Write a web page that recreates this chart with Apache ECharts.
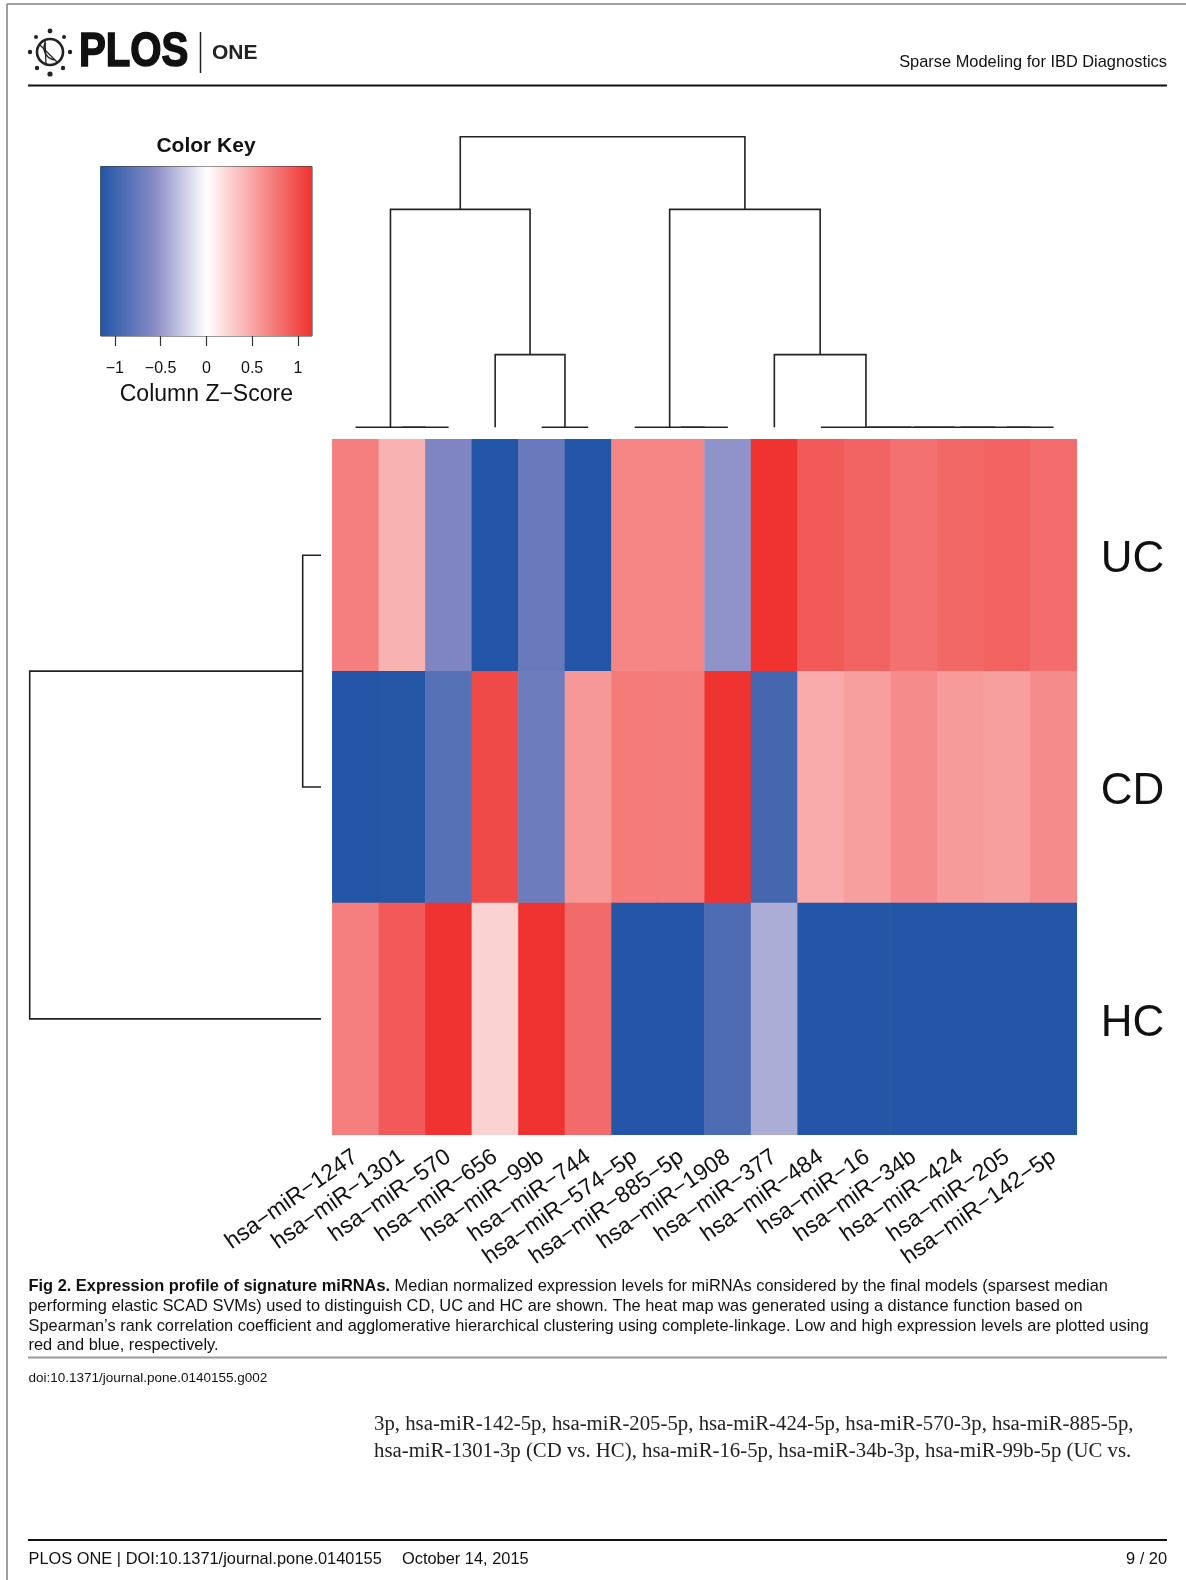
<!DOCTYPE html>
<html>
<head>
<meta charset="utf-8">
<script src="https://cdn.jsdelivr.net/npm/echarts@6/dist/echarts.min.js"></script>
<style>
html,body{margin:0;padding:0;background:#fff;}
#chart{width:1186px;height:1580px;}
</style>
</head>
<body>
<div id="chart"></div>
<script>
// ---------------- data ----------------
const colLabels = ['hsa-miR-1247','hsa-miR-1301','hsa-miR-570','hsa-miR-656','hsa-miR-99b','hsa-miR-744',
  'hsa-miR-574-5p','hsa-miR-885-5p','hsa-miR-1908','hsa-miR-377','hsa-miR-484','hsa-miR-16',
  'hsa-miR-34b','hsa-miR-424','hsa-miR-205','hsa-miR-142-5p'];
const rowLabels = ['UC', 'CD', 'HC'];
const zUC = [0.72, 0.43, -0.62, -1.15, -0.75, -1.15, 0.68, 0.68, -0.53, 1.15, 0.93, 0.87, 0.79, 0.85, 0.88, 0.82];
const zCD = [-1.15, -1.14, -0.85, 1.02, -0.73, 0.58, 0.74, 0.73, 1.15, -0.96, 0.47, 0.54, 0.65, 0.56, 0.54, 0.65];
const zHC = [0.72, 0.93, 1.15, 0.25, 1.15, 0.83, -1.15, -1.15, -0.90, -0.40, -1.15, -1.15, -1.15, -1.15, -1.15, -1.15];
// column dendrogram: [height, left, right], leaves = column index
const colTree = [2, [1.5, [0, 0, [0, 1, 2]], [0.5, 3, [0, 4, 5]]],
                    [1.5, [0, 6, [0, 7, 8]], [0.5, 9, [0, 10, [0, 11, [0, 12, [0, 13, [0, 14, 15]]]]]]]];
// row dendrogram
const rowTree = [1.75, [0.11, 0, 1], 2];
const keyRange = [-1.1547, 1.1547];
const keyTicks = [-1, -0.5, 0, 0.5, 1];

// ---------------- style ----------------
const palette = ['#2256A6', '#8689C4', '#FFFFFF', '#F69897', '#EE3230'];
const FONT = '"Liberation Sans", Arial, Helvetica, sans-serif';
const SERIF = '"Liberation Serif", "Times New Roman", serif';
const minus = s => String(s).replace(/-/g, '\u2212');

function dendroSegments(tree) {
  const segs = [];
  function walk(node) {
    if (typeof node === 'number') return [node + 0.5, 0];
    const h = node[0];
    const a = walk(node[1]), b = walk(node[2]);
    segs.push([a[0], a[1], a[0], h, b[0], h, b[0], b[1]]);
    return [(a[0] + b[0]) / 2, h];
  }
  walk(tree);
  return segs;
}
const colSegs = dendroSegments(colTree);
const rowSegs = dendroSegments(rowTree).map(s => [s[1], s[0], s[3], s[2], s[5], s[4], s[7], s[6]]);

const heatData = [];
[zUC, zCD, zHC].forEach((row, j) => row.forEach((v, i) => heatData.push([i, j, v])));

const segRender = (params, api) => {
  const pts = [];
  for (let k = 0; k < 4; k++) pts.push(api.coord([api.value(2 * k), api.value(2 * k + 1)]));
  return { type: 'polyline', shape: { points: pts }, style: { stroke: '#222', lineWidth: 1.6, fill: null } };
};
const segDims = ['a0', 'b0', 'a1', 'b1', 'a2', 'b2', 'a3', 'b3'];

const chart = echarts.init(document.getElementById('chart'), null, { renderer: 'canvas' });

const HM = { left: 332.3, top: 439.3, width: 744.5, height: 695.5 };
const CAP = '16.4px ' + FONT;

const graphics = [
  // page border
  { type: 'line', shape: { x1: 7, y1: 4, x2: 1186, y2: 4 }, style: { stroke: '#808080', lineWidth: 1.5 } },
  { type: 'line', shape: { x1: 7, y1: 4, x2: 7, y2: 1580 }, style: { stroke: '#808080', lineWidth: 1.5 } },
  // logo globe
  { type: 'circle', shape: { cx: 50, cy: 52, r: 13 }, style: { stroke: '#222', lineWidth: 2.6, fill: null } },
  { type: 'arc', shape: { cx: 56, cy: 48, r: 12, startAngle: 1.7, endAngle: 3.6 }, style: { stroke: '#222', lineWidth: 1.5, fill: null } },
  { type: 'line', shape: { x1: 40, y1: 45, x2: 58, y2: 63 }, style: { stroke: '#222', lineWidth: 1.3 } },
  { type: 'line', shape: { x1: 45, y1: 40, x2: 46, y2: 64 }, style: { stroke: '#222', lineWidth: 1.3 } },
  { type: 'circle', shape: { cx: 50, cy: 31, r: 2.4 }, style: { fill: '#222' } },
  { type: 'circle', shape: { cx: 64, cy: 37, r: 2.0 }, style: { fill: '#222' } },
  { type: 'circle', shape: { cx: 36, cy: 37, r: 2.0 }, style: { fill: '#222' } },
  { type: 'circle', shape: { cx: 30, cy: 52, r: 2.2 }, style: { fill: '#222' } },
  { type: 'circle', shape: { cx: 70, cy: 52, r: 2.2 }, style: { fill: '#222' } },
  { type: 'circle', shape: { cx: 37, cy: 68, r: 2.2 }, style: { fill: '#222' } },
  { type: 'circle', shape: { cx: 63, cy: 68, r: 2.2 }, style: { fill: '#222' } },
  { type: 'circle', shape: { cx: 50, cy: 74, r: 2.6 }, style: { fill: '#222' } },
  { type: 'text', x: 79, y: 52, scaleX: 0.82, style: { text: 'PLOS', font: 'bold 49px ' + FONT, fill: '#111', stroke: '#111', lineWidth: 1.6, align: 'left', verticalAlign: 'middle' } },
  { type: 'line', shape: { x1: 200.5, y1: 32, x2: 200.5, y2: 73 }, style: { stroke: '#222', lineWidth: 1.5 } },
  { type: 'text', x: 212, y: 53, style: { text: 'ONE', font: 'bold 21px ' + FONT, fill: '#222', align: 'left', verticalAlign: 'middle' } },
  { type: 'text', x: 1167, y: 62, style: { text: 'Sparse Modeling for IBD Diagnostics', font: CAP, fill: '#111', align: 'right', verticalAlign: 'middle' } },
  { type: 'line', shape: { x1: 28, y1: 85.6, x2: 1167, y2: 85.6 }, style: { stroke: '#111', lineWidth: 2 } },
  // color key title
  { type: 'text', x: 206, y: 146.5, style: { text: 'Color Key', font: 'bold 21px ' + FONT, fill: '#111', align: 'center', verticalAlign: 'middle' } },
  // caption
  { type: 'text', x: 28.5, y: 1286, style: {
      text: '{b|Fig 2. Expression profile of signature miRNAs.} Median normalized expression levels for miRNAs considered by the final models (sparsest median',
      font: CAP, fill: '#111', align: 'left', verticalAlign: 'middle',
      rich: { b: { fontWeight: 'bold', fontSize: 16.4, fontFamily: FONT } } } },
  { type: 'text', x: 28.5, y: 1306, style: { text: 'performing elastic SCAD SVMs) used to distinguish CD, UC and HC are shown. The heat map was generated using a distance function based on', font: CAP, fill: '#111', align: 'left', verticalAlign: 'middle' } },
  { type: 'text', x: 28.5, y: 1326, style: { text: 'Spearman\u2019s rank correlation coefficient and agglomerative hierarchical clustering using complete-linkage. Low and high expression levels are plotted using', font: CAP, fill: '#111', align: 'left', verticalAlign: 'middle' } },
  { type: 'text', x: 28.5, y: 1345.5, style: { text: 'red and blue, respectively.', font: CAP, fill: '#111', align: 'left', verticalAlign: 'middle' } },
  { type: 'line', shape: { x1: 28, y1: 1357.5, x2: 1167, y2: 1357.5 }, style: { stroke: '#999', lineWidth: 2 } },
  { type: 'text', x: 28.5, y: 1378, style: { text: 'doi:10.1371/journal.pone.0140155.g002', font: '13.5px ' + FONT, fill: '#111', align: 'left', verticalAlign: 'middle' } },
  // body text
  { type: 'text', x: 374, y: 1424.5, style: { text: '3p, hsa-miR-142-5p, hsa-miR-205-5p, hsa-miR-424-5p, hsa-miR-570-3p, hsa-miR-885-5p,', font: '20.8px ' + SERIF, fill: '#222', align: 'left', verticalAlign: 'middle' } },
  { type: 'text', x: 374, y: 1451.5, style: { text: 'hsa-miR-1301-3p (CD vs. HC), hsa-miR-16-5p, hsa-miR-34b-3p, hsa-miR-99b-5p (UC vs.', font: '20.8px ' + SERIF, fill: '#222', align: 'left', verticalAlign: 'middle' } },
  // footer
  { type: 'line', shape: { x1: 28, y1: 1540, x2: 1167, y2: 1540 }, style: { stroke: '#111', lineWidth: 2 } },
  { type: 'text', x: 28.5, y: 1559.5, style: { text: 'PLOS ONE | DOI:10.1371/journal.pone.0140155', font: CAP, fill: '#111', align: 'left', verticalAlign: 'middle' } },
  { type: 'text', x: 402, y: 1559.5, style: { text: 'October 14, 2015', font: CAP, fill: '#111', align: 'left', verticalAlign: 'middle' } },
  { type: 'text', x: 1167, y: 1559.5, style: { text: '9 / 20', font: CAP, fill: '#111', align: 'right', verticalAlign: 'middle' } }
];

const option = {
  animation: false,
  backgroundColor: '#fff',
  textStyle: { fontFamily: FONT },
  grid: [
    { left: HM.left, top: HM.top, width: HM.width, height: HM.height },            // heatmap
    { left: HM.left, top: 136.7, width: HM.width, height: 290.6 },                 // column dendrogram
    { left: 29.7, top: HM.top, width: 291.3, height: HM.height },                  // row dendrogram
    { left: 100.7, top: 166.5, width: 211.3, height: 169.5, show: true, borderColor: '#333', borderWidth: 1 } // key
  ],
  xAxis: [
    { gridIndex: 0, type: 'category', data: colLabels, position: 'bottom',
      axisLine: { show: false }, axisTick: { show: false }, splitLine: { show: false },
      axisLabel: { interval: 0, rotate: 35, fontSize: 23, margin: 20, color: '#111', formatter: minus } },
    { gridIndex: 1, type: 'value', min: 0, max: colLabels.length, show: false },
    { gridIndex: 2, type: 'value', min: 0, max: rowTree[0], inverse: true, show: false },
    { gridIndex: 3, type: 'value', min: keyRange[0], max: keyRange[1], position: 'bottom',
      axisLine: { show: false }, splitLine: { show: false },
      axisTick: { show: true, length: 10, customValues: keyTicks, lineStyle: { color: '#333', width: 1.2 } },
      axisLabel: { customValues: keyTicks, fontSize: 16, margin: 25, color: '#111', formatter: minus },
      name: 'Column Z\u2212Score', nameLocation: 'middle', nameGap: 47,
      nameTextStyle: { fontSize: 23, color: '#111' } }
  ],
  yAxis: [
    { gridIndex: 0, type: 'category', data: rowLabels, inverse: true, position: 'right',
      axisLine: { show: false }, axisTick: { show: false }, splitLine: { show: false },
      axisLabel: { margin: 24, formatter: v => '{r|' + v + '}',
        rich: { r: { fontSize: 44, color: '#111', fontFamily: FONT, padding: [9, 0, 0, 0] } } } },
    { gridIndex: 1, type: 'value', min: 0, max: colTree[0], show: false },
    { gridIndex: 2, type: 'value', min: 0, max: rowLabels.length, inverse: true, show: false },
    { gridIndex: 3, type: 'value', min: 0, max: 1, show: false }
  ],
  visualMap: {
    type: 'continuous', show: false, seriesIndex: 0,
    min: keyRange[0], max: keyRange[1], inRange: { color: palette }
  },
  series: [
    { type: 'heatmap', xAxisIndex: 0, yAxisIndex: 0, data: heatData, silent: true,
      itemStyle: { borderWidth: 0 }, emphasis: { disabled: true } },
    { type: 'custom', xAxisIndex: 1, yAxisIndex: 1, data: colSegs, dimensions: segDims,
      encode: { x: [0, 2, 4, 6], y: [1, 3, 5, 7] }, renderItem: segRender, clip: false, silent: true },
    { type: 'custom', xAxisIndex: 2, yAxisIndex: 2, data: rowSegs, dimensions: segDims,
      encode: { x: [0, 2, 4, 6], y: [1, 3, 5, 7] }, renderItem: segRender, clip: false, silent: true },
    { type: 'custom', xAxisIndex: 3, yAxisIndex: 3, data: [[keyRange[0], keyRange[1]]], clip: false, silent: true,
      renderItem: (params, api) => {
        const p0 = api.coord([api.value(0), 1]);
        const p1 = api.coord([api.value(1), 0]);
        return { type: 'rect', shape: { x: p0[0], y: p0[1], width: p1[0] - p0[0], height: p1[1] - p0[1] },
          style: { fill: { type: 'linear', x: 0, y: 0, x2: 1, y2: 0,
            colorStops: palette.map((c, i) => ({ offset: i / (palette.length - 1), color: c })) } } };
      } }
  ],
  graphic: { elements: graphics }
};
chart.setOption(option);
</script>
</body>
</html>
